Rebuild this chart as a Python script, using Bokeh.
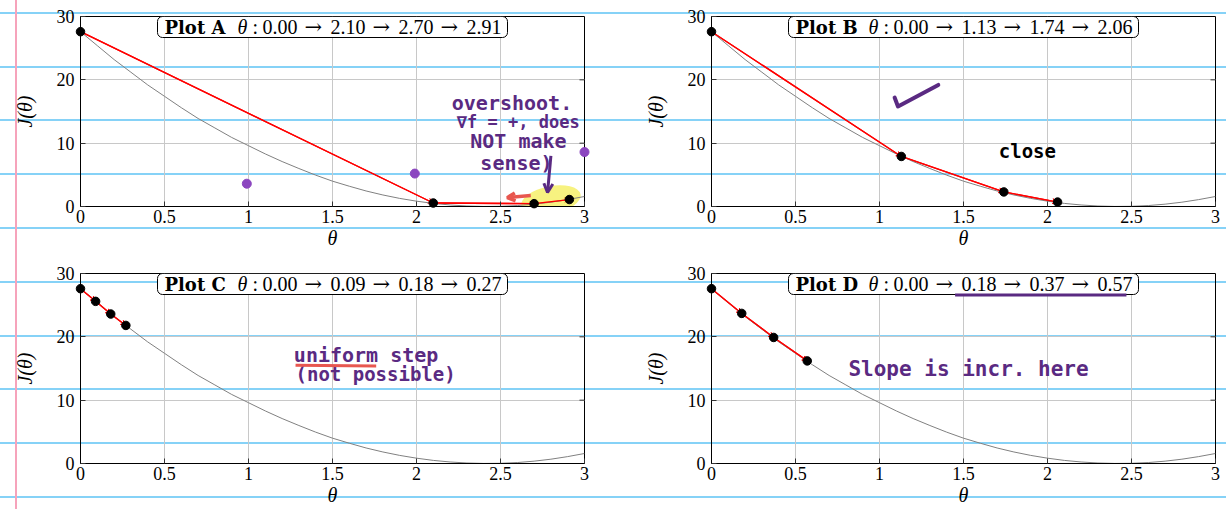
from bokeh.plotting import figure
from bokeh.layouts import gridplot
from bokeh.models import (Range1d, FixedTicker, Label, BoxAnnotation,
                          Arrow, VeeHead, OpenHead, ColumnDataSource)
from bokeh.embed import file_html
from bokeh.resources import INLINE

# ---------------- data ----------------
curve_theta = [0.0, 0.1, 0.2, 0.3, 0.4, 0.5, 0.6, 0.7, 0.8, 0.9, 1.0,
               1.1, 1.2, 1.3, 1.4, 1.5, 1.6, 1.7, 1.8, 1.9, 2.0,
               2.1, 2.2, 2.3, 2.4, 2.5, 2.6, 2.7, 2.8, 2.9, 3.0]
curve_J = [27.6, 25.4, 23.2, 21.2, 19.2, 17.4, 15.6, 13.9, 12.4, 10.9, 9.6,
           8.3, 7.1, 6.0, 4.95, 4.0, 3.2, 2.45, 1.82, 1.28, 0.84,
           0.49, 0.24, 0.08, 0.01, 0.03, 0.15, 0.37, 0.68, 1.09, 1.58]

plot_names = ["A", "B", "C", "D"]
theta_A = [0.00, 2.10, 2.70, 2.91]
J_A = [27.6, 0.55, 0.45, 1.1]
theta_B = [0.00, 1.13, 1.74, 2.06]
J_B = [27.6, 7.9, 2.3, 0.7]
theta_C = [0.00, 0.09, 0.18, 0.27]
J_C = [27.6, 25.6, 23.6, 21.8]
theta_D = [0.00, 0.18, 0.37, 0.57]
J_D = [27.6, 23.7, 19.9, 16.2]

x_ticks = [0, 0.5, 1, 1.5, 2, 2.5, 3]
x_tick_labels = ["0", "0.5", "1", "1.5", "2", "2.5", "3"]
y_ticks = [0, 10, 20, 30]
y_tick_labels = ["0", "10", "20", "30"]

# hand-drawn marks on plot A
dots_A_x = [0.99, 1.99, 3.0]
dots_A_y = [3.6, 5.2, 8.6]

# ---------------- styling helpers ----------------
PX_X = 504 / 3.0      # px per theta unit inside a frame
PX_Y = 190 / 30.0     # px per J unit inside a frame


def dx(px):
    return px / PX_X


def dy(px):          # px measured down from the frame top
    return 30 - px / PX_Y


PURPLE = "#5a2a82"
DOT_PURPLE = "#8c46c0"
HAND_RED = "#e8574f"
SERIF = "Liberation Serif"
HAND = "DejaVu Sans Mono"


def make_plot(name, th, J, width, height, left, right, top, bottom):
    p = figure(width=width, height=height, x_range=Range1d(0, 3), y_range=Range1d(0, 30),
               output_backend="svg", toolbar_location=None, tools="",
               min_border_left=left, min_border_right=right,
               min_border_top=top, min_border_bottom=bottom,
               background_fill_color=None, border_fill_color=None,
               outline_line_color="black", outline_line_width=1, outline_line_alpha=1)

    xa = p.below[0]
    ya = p.left[0]
    for ax, ticks, labels in ((xa, x_ticks, x_tick_labels), (ya, y_ticks, y_tick_labels)):
        ax.ticker = FixedTicker(ticks=ticks)
        ax.major_label_overrides = dict(zip(ticks, labels))
        ax.major_label_text_font = SERIF
        ax.major_label_text_font_size = "18px"
        ax.major_label_text_color = "black"
        ax.major_tick_in = 5
        ax.major_tick_out = 0
        ax.major_tick_line_color = "#333333"
        ax.minor_tick_line_color = None
        ax.axis_line_color = "black"
        ax.axis_label_text_font = SERIF
        ax.axis_label_text_font_style = "italic"
        ax.axis_label_text_font_size = "20px"
        ax.axis_label_text_color = "black"
    xa.axis_label = "θ"
    xa.major_label_standoff = 3
    xa.axis_label_standoff = 1
    ya.axis_label = "J(θ)"
    ya.major_label_standoff = 6
    ya.axis_label_standoff = 18

    p.xgrid.ticker = FixedTicker(ticks=x_ticks)
    p.ygrid.ticker = FixedTicker(ticks=y_ticks)
    p.xgrid.grid_line_color = "#c8c8c8"
    p.ygrid.grid_line_color = "#c8c8c8"

    # inward ticks on the right and top edges of the frame
    yt = y_ticks[1:-1]
    p.segment(x0=[3 - dx(5)] * len(yt), y0=yt, x1=[3] * len(yt), y1=yt,
              line_color="#333333", line_width=1)
    xt = x_ticks[1:-1]
    p.segment(x0=xt, y0=[30 - 5 / PX_Y] * len(xt), x1=xt, y1=[30] * len(xt),
              line_color="#333333", line_width=1)

    # cost curve
    p.line(curve_theta, curve_J, color="#808080", line_width=1)

    # steps with small arrow heads
    src = ColumnDataSource(dict(x0=th[:-1], y0=J[:-1], x1=th[1:], y1=J[1:]))
    arr = Arrow(x_start="x0", y_start="y0", x_end="x1", y_end="y1", source=src,
                line_color="red", line_width=1.3,
                end=VeeHead(size=5, fill_color="red", line_color="red", line_width=1),
                level="underlay")
    p.add_layout(arr)
    p.line(th, J, color="red", line_width=1.3)
    dots = p.scatter(th, J, size=8.5, color="black")
    dots.level = "overlay"

    # title box
    p.add_layout(BoxAnnotation(left=dx(77), right=dx(427), top=30, bottom=dy(21),
                               fill_color="white", fill_alpha=1, line_color="black",
                               line_alpha=1, line_width=1, border_radius=5))
    mid = dy(10.5)
    common = dict(y=mid, text_baseline="middle", text_color="black")
    p.add_layout(Label(x=dx(84), text="Plot " + name, text_font="DejaVu Serif",
                       text_font_style="bold", text_font_size="18px", **common))
    p.add_layout(Label(x=dx(157), text="θ", text_font=SERIF,
                       text_font_style="italic", text_font_size="20px", **common))
    p.add_layout(Label(x=dx(172), text=":", text_font=SERIF,
                       text_font_size="20px", **common))
    for i, v in enumerate(th):
        p.add_layout(Label(x=dx(182 + 68 * i), text=f"{v:.2f}", text_font=SERIF,
                           text_font_size="20px", **common))
    for i in range(len(th) - 1):
        p.add_layout(Label(x=dx(224 + 68 * i), text="→", text_font="DejaVu Serif",
                           text_font_size="21px", **common))
    return p


def hand(p, x, y, text, size, color=PURPLE):
    p.add_layout(Label(x=x, y=y, text=text, text_font=HAND, text_font_style="bold",
                       text_font_size=f"{size}px", text_color=color,
                       text_baseline="middle", text_align="left"))


# ---------------- plots ----------------
pA = make_plot("A", theta_A, J_A, 620, 254, 80, 36, 16, 48)
pB = make_plot("B", theta_B, J_B, 606, 254, 91, 11, 16, 48)
pC = make_plot("C", theta_C, J_C, 620, 255, 80, 36, 19, 46)
pD = make_plot("D", theta_D, J_D, 606, 255, 91, 11, 19, 46)

# plot A annotations
hl = pA.ellipse(x=2.80, y=1.0, width=0.36, height=4.4, angle=0.2,
                fill_color="#f4ee55", fill_alpha=0.75, line_color=None)
pA.renderers.remove(hl)
pA.renderers.insert(0, hl)
pd = pA.scatter(dots_A_x, dots_A_y, size=9, color=DOT_PURPLE)
pd.level = "overlay"
hand(pA, 2.21, 16.4, "overshoot.", 20)
hand(pA, 2.24, 13.4, "∇f = +, does", 17)
hand(pA, 2.32, 10.3, "NOT make", 20)
hand(pA, 2.38, 6.9, "sense)", 20)
pA.add_layout(Arrow(x_start=2.80, y_start=8.0, x_end=2.78, y_end=2.2, line_color=PURPLE,
                    line_width=3, end=OpenHead(size=9, line_color=PURPLE, line_width=3)))
pA.add_layout(Arrow(x_start=2.68, y_start=1.75, x_end=2.54, y_end=1.4, line_color=HAND_RED,
                    line_width=3.5, end=OpenHead(size=8, line_color=HAND_RED, line_width=3.5)))

# plot B annotations
pB.line([1.09, 1.11, 1.35], [17.2, 15.8, 19.2], color=PURPLE, line_width=4,
         line_cap="round", line_join="round")
hand(pB, 1.71, 8.8, "close", 19, color="black")

# plot C annotations
hand(pC, 1.27, 17.1, "uniform step", 20)
hand(pC, 1.28, 14.2, "(not possible)", 19)
pC.add_layout(Arrow(x_start=1.28, y_start=15.5, x_end=1.76, y_end=15.4, end=None,
                    line_color=HAND_RED, line_width=3))

# plot D annotations
hand(pD, 0.815, 14.85, "Slope is incr. here", 21)
pD.add_layout(Arrow(x_start=1.45, y_start=dy(21.5), x_end=2.47, y_end=dy(21.5), end=None,
                    line_color=PURPLE, line_width=3))

grid = gridplot([[pA, pB], [pC, pD]], toolbar_location=None)
bg = ("linear-gradient(to right, transparent 15.5px, #f6a3bb 15.5px, #f6a3bb 17.5px, "
      "transparent 17.5px), "
      "repeating-linear-gradient(to bottom, transparent 0px, transparent 12px, "
      "#86d2f7 12px, #86d2f7 14px, transparent 14px, transparent 53.75px)")
grid.styles = {"background-color": "white", "background-image": bg}

open("out.html", "w").write(file_html(grid, INLINE))
